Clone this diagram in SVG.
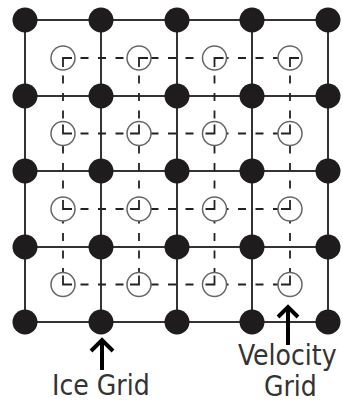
<svg xmlns="http://www.w3.org/2000/svg" width="343" height="402" viewBox="0 0 343 402">
<style>
.grid{stroke:#333;stroke-width:2;fill:none}
.dash{stroke:#222;stroke-width:1.8;fill:none;stroke-dasharray:8 9.5}
.ice{fill:#1e1c1d}
.vel{fill:#fff;stroke:#666;stroke-width:1.5}
.arrow{stroke:#000;stroke-width:4;fill:none}
.lbl{font-family:"DejaVu Sans Condensed","DejaVu Sans","Liberation Sans",sans-serif;font-stretch:condensed;font-size:28px;fill:#333}
</style>
<rect width="343" height="402" fill="#fff"/>
<g id="connectors">
<g class="grid">
<path d="M25 20H328M25 96H328M25 171H328M25 247H328M25 322H328"/>
<path d="M25 20V322M101 20V322M177 20V322M252 20V322M328 20V322"/>
</g>
<g class="dash">
<path d="M63 58H290M63 133.5H290M63 209H290M63 284.5H290"/>
<path d="M63 58V284.5M139 58V284.5M214.5 58V284.5M290 58V284.5"/>
</g>
</g>
<g id="velocity-grid">
<circle class="vel" cx="63" cy="58" r="12"/><circle class="vel" cx="139" cy="58" r="12"/><circle class="vel" cx="214.5" cy="58" r="12"/><circle class="vel" cx="290" cy="58" r="12"/>
<circle class="vel" cx="63" cy="133.5" r="12"/><circle class="vel" cx="139" cy="133.5" r="12"/><circle class="vel" cx="214.5" cy="133.5" r="12"/><circle class="vel" cx="290" cy="133.5" r="12"/>
<circle class="vel" cx="63" cy="209" r="12"/><circle class="vel" cx="139" cy="209" r="12"/><circle class="vel" cx="214.5" cy="209" r="12"/><circle class="vel" cx="290" cy="209" r="12"/>
<circle class="vel" cx="63" cy="284.5" r="12"/><circle class="vel" cx="139" cy="284.5" r="12"/><circle class="vel" cx="214.5" cy="284.5" r="12"/><circle class="vel" cx="290" cy="284.5" r="12"/>
</g>
<g id="velocity-corners" class="grid" style="stroke-width:1.8;stroke:#222">
<path d="M63 67V58H72M139 67V58H148M214.5 67V58H223.5M290 67V58H299"/>
<path d="M63 124.5V133.5H72M130 133.5H139V124.5M205.5 133.5H214.5V124.5M281 133.5H290V124.5"/>
<path d="M63 200V209H72M130 209H139V200M205.5 209H214.5V200M281 209H290V200"/>
<path d="M63 275.5V284.5H72M130 284.5H139V275.5M205.5 284.5H214.5V275.5M281 284.5H290V275.5"/>
</g>
<g id="ice-grid" class="ice">
<circle cx="25" cy="20" r="12.5"/><circle cx="101" cy="20" r="12.5"/><circle cx="177" cy="20" r="12.5"/><circle cx="252" cy="20" r="12.5"/><circle cx="328" cy="20" r="12.5"/>
<circle cx="25" cy="96" r="12.5"/><circle cx="101" cy="96" r="12.5"/><circle cx="177" cy="96" r="12.5"/><circle cx="252" cy="96" r="12.5"/><circle cx="328" cy="96" r="12.5"/>
<circle cx="25" cy="171" r="12.5"/><circle cx="101" cy="171" r="12.5"/><circle cx="177" cy="171" r="12.5"/><circle cx="252" cy="171" r="12.5"/><circle cx="328" cy="171" r="12.5"/>
<circle cx="25" cy="247" r="12.5"/><circle cx="101" cy="247" r="12.5"/><circle cx="177" cy="247" r="12.5"/><circle cx="252" cy="247" r="12.5"/><circle cx="328" cy="247" r="12.5"/>
<circle cx="25" cy="322" r="12.5"/><circle cx="101" cy="322" r="12.5"/><circle cx="177" cy="322" r="12.5"/><circle cx="252" cy="322" r="12.5"/><circle cx="328" cy="322" r="12.5"/>
</g>
<g id="ice-label">
<path class="arrow" d="M102 340V370M91 351L102 340L113 351"/>
<text class="lbl" x="52" y="395">Ice Grid</text>
</g>
<g id="velocity-label">
<path class="arrow" d="M288 307V345M278 317L288 307L298 317"/>
<text class="lbl" x="238" y="365">Velocity</text>
<text class="lbl" x="264" y="396">Grid</text>
</g>
</svg>
